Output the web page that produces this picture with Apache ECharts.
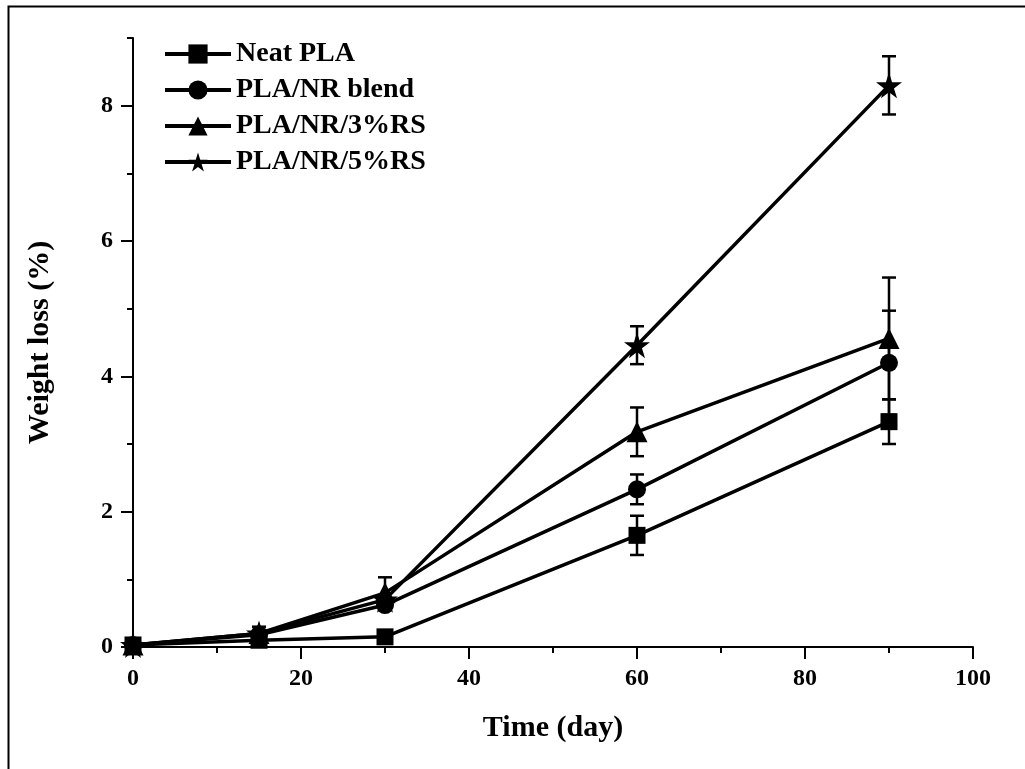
<!DOCTYPE html>
<html>
<head>
  <meta charset="UTF-8">
  <title>Weight loss vs time</title>
  <style>
    body { margin: 0; background: #fff; }
    #main { width: 1025px; height: 769px; }
  </style>
</head>
<body>
  <div id="main"></div>
  <script src="https://cdn.jsdelivr.net/npm/echarts@6/dist/echarts.min.js"></script>
  <script>
    const days = [0, 15, 30, 60, 90];

    const neatPLA = [0.03, 0.1, 0.15, 1.65, 3.33];
    const neatPLAErr = [0, 0, 0, 0.29, 0.33];
    const blend = [0.03, 0.18, 0.62, 2.33, 4.2];
    const blendErr = [0, 0, 0, 0.22, 0.77];
    const rs3 = [0.03, 0.2, 0.8, 3.18, 4.56];
    const rs3Err = [0, 0, 0.23, 0.36, 0.9];
    const rs5 = [0.03, 0.2, 0.7, 4.46, 8.3];
    const rs5Err = [0, 0.1, 0, 0.28, 0.43];

    const yMajorTicks = [0, 2, 4, 6, 8];
    const yMinorTicks = [1, 3, 5, 7, 9];

    const font = 'Liberation Serif';
    const black = '#000';
    const starPath = 'path://M50,0 L61.8,36.3 L100,36.3 L69.1,58.8 L80.9,95.1 L50,72.7 L19.1,95.1 L30.9,58.8 L0,36.3 L38.2,36.3 Z';

    const chart = echarts.init(document.getElementById('main'));

    function lineSeries(name, values, symbol, size) {
      return {
        name: name,
        type: 'line',
        data: days.map((d, i) => [d, values[i]]),
        symbol: symbol,
        symbolSize: size,
        showAllSymbol: true,
        itemStyle: { color: black },
        lineStyle: { color: black, width: 3.5 },
        z: 3
      };
    }

    function errorSeries(values, errs) {
      const data = [];
      days.forEach((d, i) => {
        if (errs[i] > 0) data.push([d, values[i] - errs[i], values[i] + errs[i]]);
      });
      return {
        type: 'custom',
        data: data,
        encode: { x: 0, y: [1, 2] },
        z: 2,
        silent: true,
        renderItem: function (params, api) {
          const x = api.value(0);
          const lo = api.coord([x, api.value(1)]);
          const hi = api.coord([x, api.value(2)]);
          const half = 7;
          const style = { stroke: black, lineWidth: 2.5 };
          return {
            type: 'group',
            children: [
              { type: 'line', shape: { x1: lo[0], y1: lo[1], x2: hi[0], y2: hi[1] }, style: style },
              { type: 'line', shape: { x1: hi[0] - half, y1: hi[1], x2: hi[0] + half, y2: hi[1] }, style: style },
              { type: 'line', shape: { x1: lo[0] - half, y1: lo[1], x2: lo[0] + half, y2: lo[1] }, style: style }
            ]
          };
        }
      };
    }

    const tickLabel = { fontFamily: font, fontWeight: 'bold', fontSize: 24, color: black };

    chart.setOption({
      animation: false,
      backgroundColor: '#fff',
      graphic: [{
        type: 'rect',
        shape: { x: 8.5, y: 6.5, width: 1100, height: 900 },
        style: { fill: 'none', stroke: black, lineWidth: 2 },
        silent: true
      }],
      grid: { left: 133, right: 52, top: 38, bottom: 122 },
      legend: {
        data: ['Neat PLA', 'PLA/NR blend', 'PLA/NR/3%RS', 'PLA/NR/5%RS'],
        orient: 'vertical',
        left: 163,
        top: 40,
        padding: 0,
        itemWidth: 66,
        itemHeight: 24,
        itemGap: 8,
        lineStyle: { width: 4 },
        textStyle: { fontFamily: font, fontWeight: 'bold', fontSize: 28, color: black, padding: [0, 0, 0, 0] }
      },
      xAxis: {
        type: 'value',
        min: 0,
        max: 100,
        interval: 20,
        name: 'Time (day)',
        nameLocation: 'middle',
        nameGap: 66,
        nameTextStyle: { fontFamily: font, fontWeight: 'bold', fontSize: 30, color: black },
        axisLine: { lineStyle: { color: black, width: 2 } },
        axisTick: { show: true, inside: false, length: 12, lineStyle: { color: black, width: 2 } },
        minorTick: { show: true, splitNumber: 2, length: 6, lineStyle: { color: black, width: 2 } },
        axisLabel: Object.assign({ margin: 20 }, tickLabel),
        splitLine: { show: false }
      },
      yAxis: [{
        type: 'value',
        min: 0,
        max: 9,
        interval: 1,
        name: 'Weight loss (%)',
        nameLocation: 'middle',
        nameGap: 78,
        nameTextStyle: { fontFamily: font, fontWeight: 'bold', fontSize: 30, color: black },
        axisLine: { show: true, lineStyle: { color: black, width: 2 } },
        axisTick: { show: true, length: 12, customValues: yMajorTicks, lineStyle: { color: black, width: 2 } },
        axisLabel: Object.assign({ margin: 20, customValues: yMajorTicks }, tickLabel),
        splitLine: { show: false }
      }, {
        type: 'value',
        min: 0,
        max: 9,
        interval: 1,
        position: 'left',
        axisLine: { show: false },
        axisTick: { show: true, length: 6, customValues: yMinorTicks, lineStyle: { color: black, width: 2 } },
        axisLabel: { show: false },
        splitLine: { show: false }
      }],
      series: [
        errorSeries(neatPLA, neatPLAErr),
        errorSeries(blend, blendErr),
        errorSeries(rs3, rs3Err),
        errorSeries(rs5, rs5Err),
        lineSeries('Neat PLA', neatPLA, 'rect', 17),
        lineSeries('PLA/NR blend', blend, 'circle', 18),
        lineSeries('PLA/NR/3%RS', rs3, 'triangle', 21),
        lineSeries('PLA/NR/5%RS', rs5, starPath, 26)
      ]
    });
  </script>
</body>
</html>
